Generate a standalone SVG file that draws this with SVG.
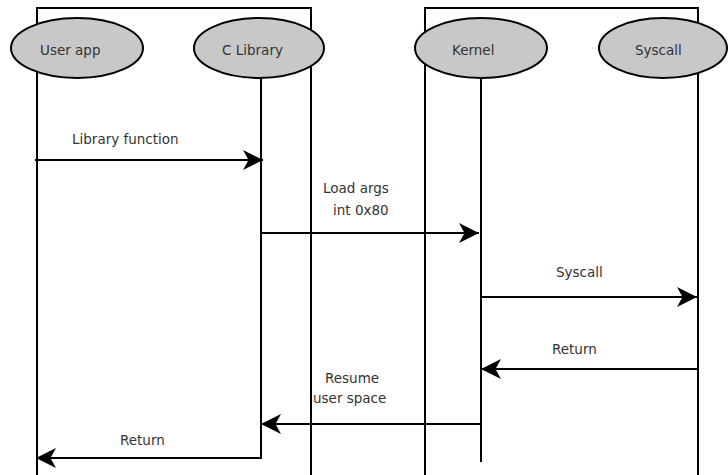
<svg xmlns="http://www.w3.org/2000/svg" width="728" height="475" viewBox="0 0 728 475">
<style>
.box{fill:none;stroke:#000;stroke-width:2}
.actor{fill:#c8c8c8;stroke:#000;stroke-width:2}
.life{stroke:#000;stroke-width:2;fill:none}
.msg{stroke:#000;stroke-width:2.2;fill:none;marker-end:url(#ah)}
text{font-family:"DejaVu Sans","Liberation Sans",sans-serif;font-size:13.5px;fill:#333}
</style>
<defs>
<marker id="ah" markerUnits="userSpaceOnUse" markerWidth="20" markerHeight="20" refX="18" refY="9" orient="auto" viewBox="0 0 18 18">
<path d="M0,0 L18,9 L0,18 L5,9 z" fill="#000"/>
</marker>
</defs>
<rect width="728" height="475" fill="#fff"/>
<g id="userspace-box"><path class="box" d="M37,476 V8 H311 V476"/></g>
<g id="kernel-box"><path class="box" d="M425,476 V8 H698 V476"/></g>
<g id="lifelines">
<line class="life" x1="261" y1="78" x2="261" y2="459"/>
<line class="life" x1="481" y1="78" x2="481" y2="462"/>
</g>
<g id="user-app"><ellipse class="actor" cx="77" cy="48" rx="66" ry="30"/><text x="40" y="55">User app</text></g>
<g id="c-library"><ellipse class="actor" cx="259" cy="48" rx="65" ry="30"/><text x="222" y="55">C Library</text></g>
<g id="kernel"><ellipse class="actor" cx="481" cy="48" rx="66" ry="30"/><text x="452" y="55">Kernel</text></g>
<g id="syscall"><ellipse class="actor" cx="663" cy="48" rx="64" ry="30"/><text x="635" y="55">Syscall</text></g>
<g id="connectors">
<line class="msg" x1="35" y1="160" x2="263" y2="160"/>
<text x="72" y="144">Library function</text>
<line class="msg" x1="261" y1="233" x2="479" y2="233"/>
<text x="323" y="193">Load args</text>
<text x="333" y="215">int 0x80</text>
<line class="msg" x1="481" y1="297" x2="697" y2="297"/>
<text x="556" y="277">Syscall</text>
<line class="msg" x1="697" y1="369" x2="481" y2="369"/>
<text x="552" y="354">Return</text>
<line class="msg" x1="481" y1="424" x2="261" y2="424"/>
<text x="325" y="383">Resume</text>
<text x="313" y="403">user space</text>
<line class="msg" x1="262" y1="458" x2="36" y2="458"/>
<text x="120" y="445">Return</text>
</g>
</svg>
